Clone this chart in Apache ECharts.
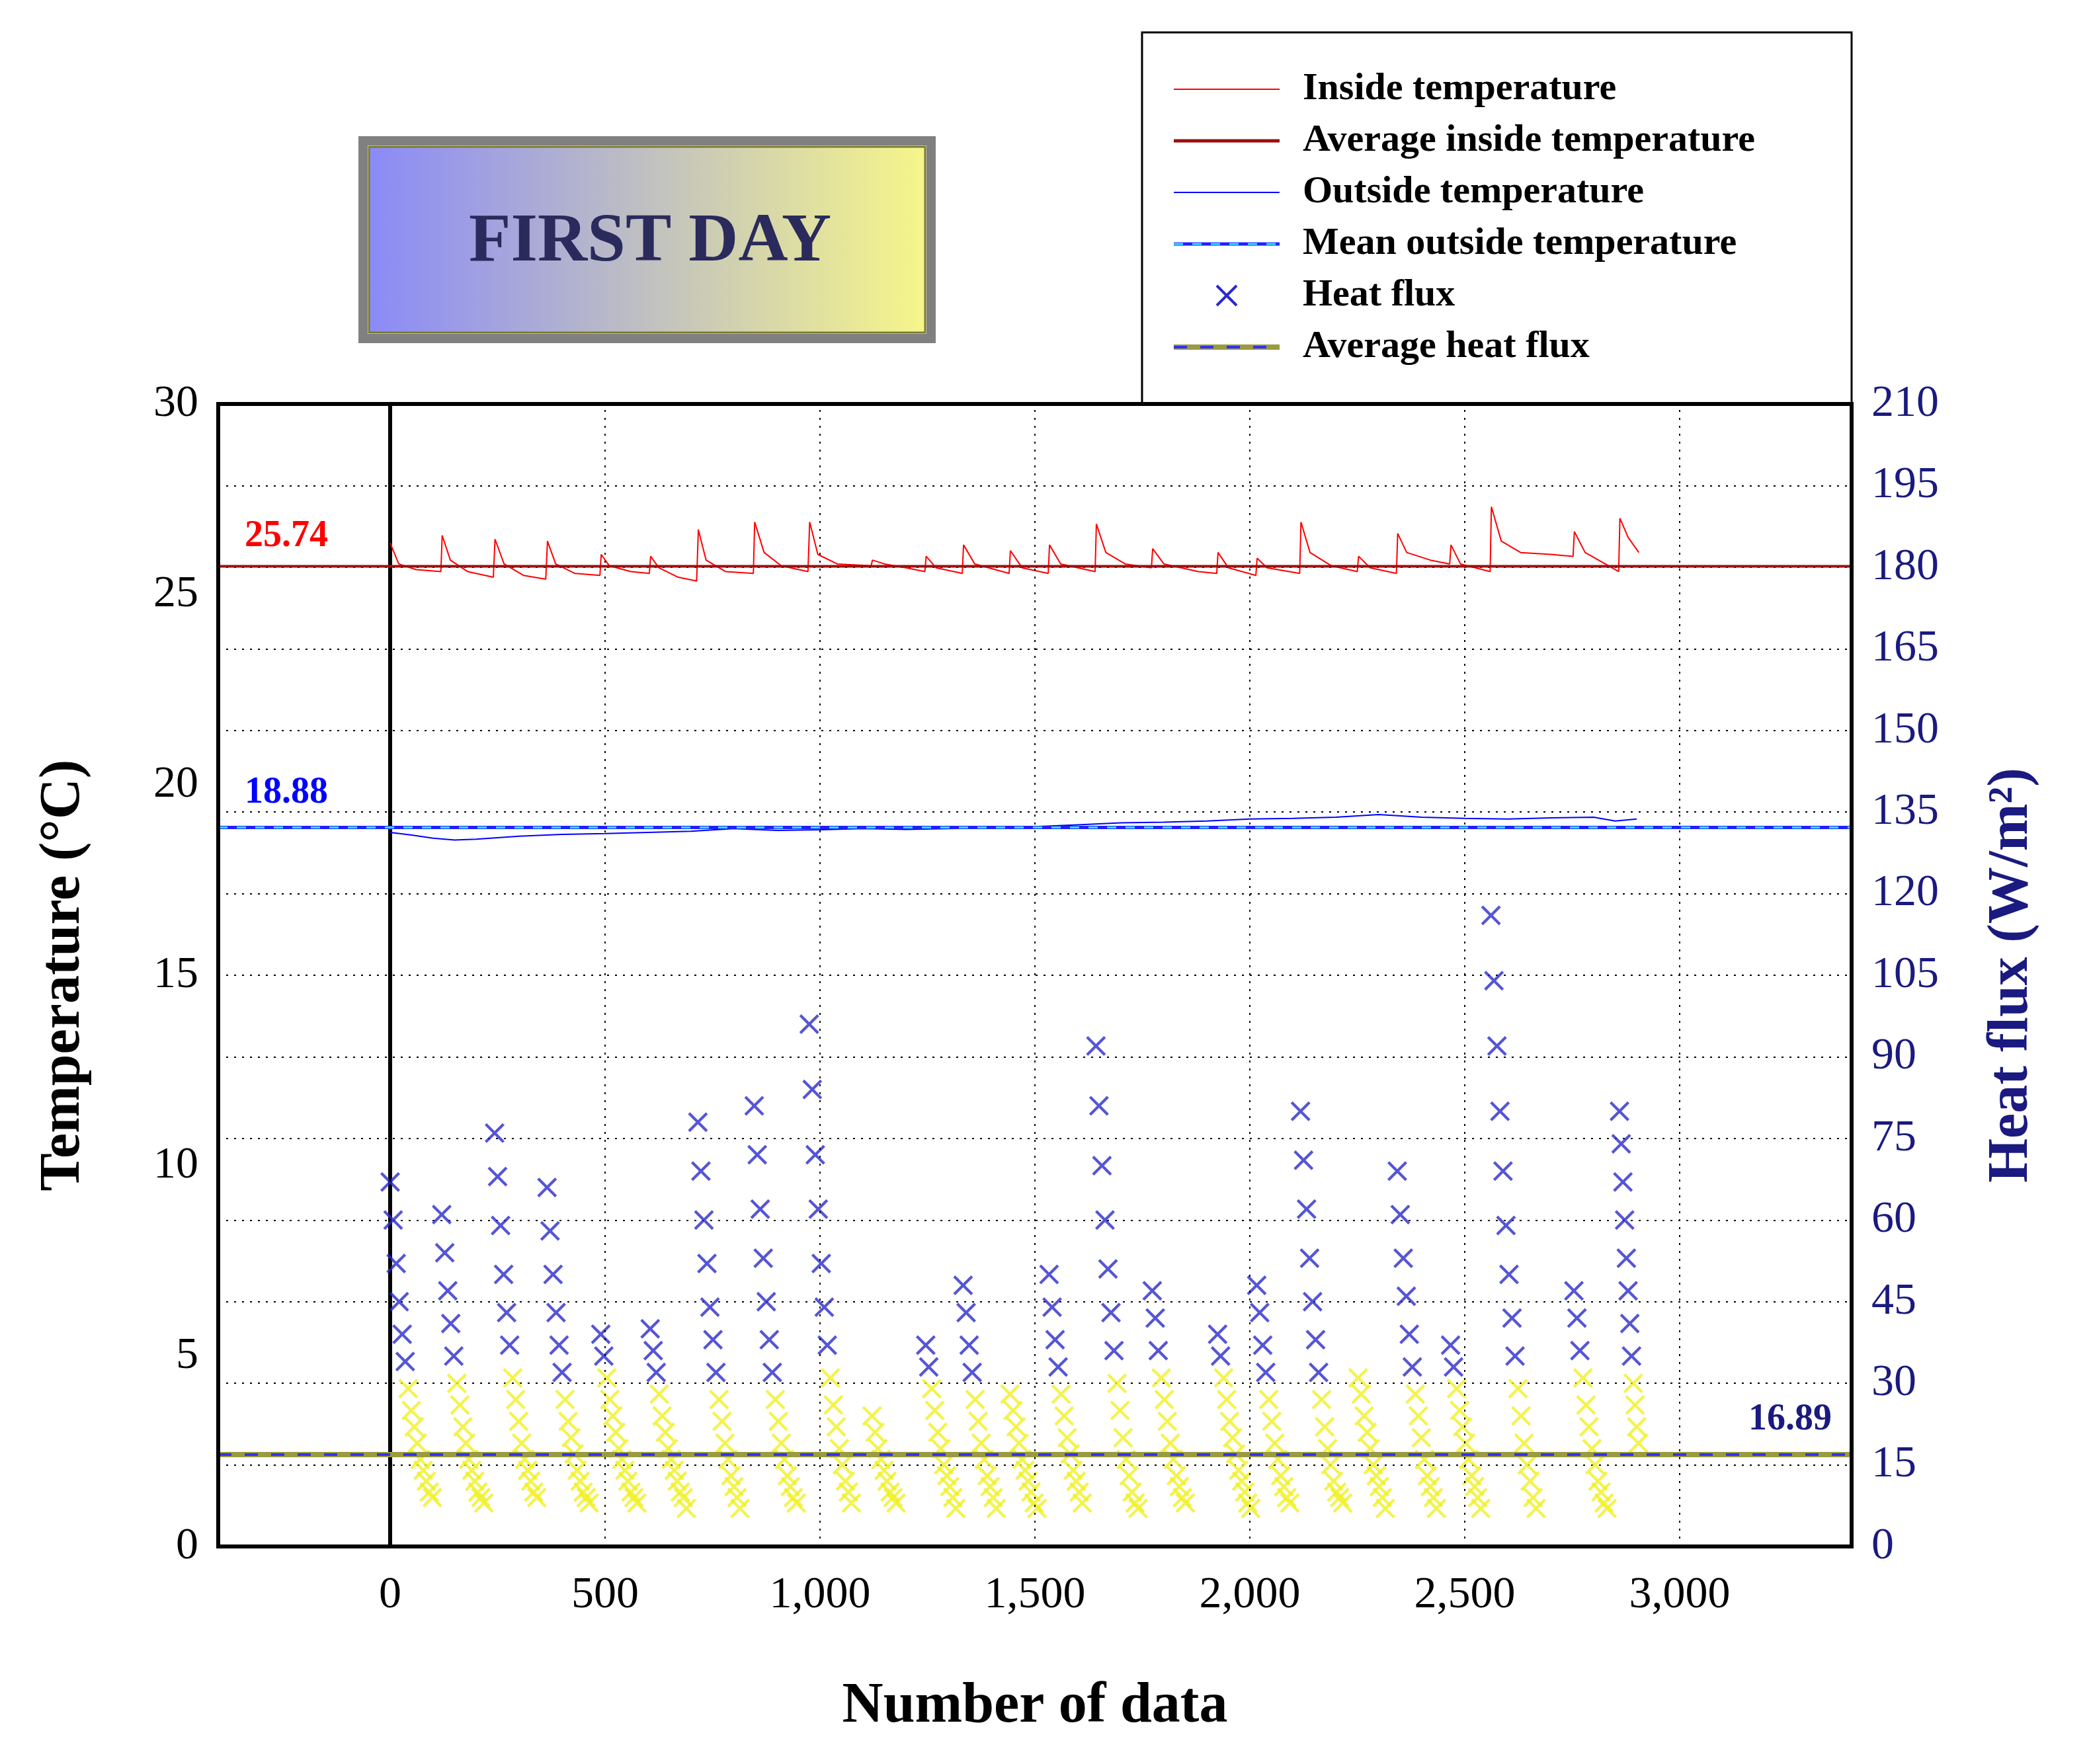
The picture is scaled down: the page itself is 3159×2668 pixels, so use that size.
<!DOCTYPE html>
<html><head><meta charset="utf-8">
<script src="https://cdn.jsdelivr.net/npm/echarts@6/dist/echarts.min.js"></script>
<style>html,body{margin:0;padding:0;background:#fff}#c{width:3159px;height:2668px}</style>
</head><body><div id="c"></div>
<script>
const xTicks=[0,500,1000,1500,2000,2500,3000];
const avgInside=25.74, meanOutside=18.88, avgHeat=16.89;
const insideTemp=[[0,26.35],[20,25.8],[60,25.65],[118,25.6],[121,26.55],[140,25.9],[180,25.6],[240,25.45],
[244,26.45],[265,25.8],[310,25.5],[362,25.4],[366,26.4],[385,25.8],[430,25.55],[488,25.5],
[491,26.05],[510,25.75],[560,25.6],[603,25.55],[606,26.0],[625,25.7],[670,25.45],[713,25.35],
[717,26.7],[735,25.9],[780,25.6],[845,25.55],[848,26.9],[870,26.1],[910,25.75],[972,25.6],
[976,26.9],[995,26.05],[1040,25.8],[1119,25.75],[1122,25.9],[1150,25.8],[1200,25.7],[1244,25.6],
[1247,26.0],[1270,25.7],[1331,25.55],[1334,26.3],[1360,25.8],[1440,25.55],[1443,26.15],[1470,25.7],[1531,25.55],
[1534,26.3],[1560,25.8],[1640,25.6],[1643,26.85],[1665,26.1],[1710,25.8],[1771,25.7],
[1774,26.2],[1800,25.8],[1880,25.6],[1923,25.55],[1926,26.1],[1950,25.7],[2014,25.5],
[2017,25.95],[2040,25.7],[2116,25.55],[2119,26.9],[2140,26.1],[2190,25.75],[2250,25.6],
[2253,26.0],[2280,25.7],[2341,25.55],[2344,26.6],[2365,26.1],[2420,25.9],[2465,25.8],
[2468,26.3],[2490,25.8],[2559,25.6],[2562,27.3],[2585,26.4],[2630,26.1],[2700,26.05],[2752,26.0],
[2755,26.65],[2780,26.1],[2858,25.6],[2861,27.0],[2880,26.5],[2905,26.1]];
const outsideTemp=[[0,18.75],[50,18.68],[100,18.6],[150,18.55],[200,18.57],[300,18.65],[400,18.7],[500,18.72],[600,18.75],[700,18.78],[800,18.85],[900,18.8],[1000,18.82],[1100,18.85],[1200,18.83],[1300,18.85],[1400,18.87],[1500,18.9],[1600,18.95],[1700,19.0],[1800,19.02],[1900,19.05],[2000,19.1],[2100,19.12],[2200,19.15],[2300,19.22],[2400,19.15],[2500,19.12],[2600,19.1],[2700,19.13],[2800,19.15],[2850,19.05],[2900,19.1]];
// heat flux pulses: [start, step, values]
const heatPulses=[
[0,7,[67,60,52,45,39,34,29,25,22,19,16,14,12,10,9]],
[120,7,[61,54,47,41,35,30,26,22,19,16,14,12,10,9,8]],
[243,7,[76,68,59,50,43,37,31,27,23,19,16,14,12,10,9]],
[365,7,[66,58,50,43,37,32,27,23,20,17,14,12,10,9,8]],
[490,7,[39,35,31,27,24,21,18,16,14,12,10,9,8]],
[605,7,[40,36,32,28,24,21,18,16,14,12,10,9,7]],
[716,7,[78,69,60,52,44,38,32,27,23,19,16,13,11,9,7]],
[847,7,[81,72,62,53,45,38,32,27,23,19,16,13,11,9,8]],
[975,7,[96,84,72,62,52,44,37,31,26,22,18,15,12,10,8]],
[1121,7,[24,21,18,16,14,12,10,9,8]],
[1246,7,[37,33,29,25,21,18,15,13,11,9,7]],
[1333,7,[48,43,37,32,27,23,19,16,13,11,9,7]],
[1442,7,[28,25,22,19,16,14,12,10,8,7]],
[1533,7,[50,44,38,33,28,24,20,17,14,12,10,8]],
[1642,7,[92,81,70,60,51,43,36,30,25,20,16,13,10,8,7]],
[1773,7,[47,42,36,31,27,23,19,16,13,11,9,8]],
[1925,7,[39,35,31,27,23,20,17,14,12,10,8,7]],
[2016,7,[48,43,37,32,27,23,19,16,13,11,9,8]],
[2118,7,[80,71,62,53,45,38,32,27,22,18,15,12,10,9,8]],
[2252,7,[31,28,24,21,18,15,13,11,9,7]],
[2343,7,[69,61,53,46,39,33,28,24,20,16,13,11,9,7]],
[2467,7,[37,33,29,25,22,19,16,13,11,9,7]],
[2561,7,[116,104,92,80,69,59,50,42,35,29,24,19,15,12,9,7]],
[2754,7,[47,42,36,31,26,22,18,15,12,10,8,7]],
[2860,4,[80,74,67,60,53,47,41,35,30,26,22,19]]];
const heatData=[];
heatPulses.forEach(p=>p[2].forEach((v,i)=>heatData.push([p[0]+i*p[1],v])));

const F='Liberation Serif';
const X='path://M0,1L1,0L5,4L9,0L10,1L6,5L10,9L9,10L5,6L1,10L0,9L4,5Z';
const chart=echarts.init(document.getElementById('c'));
const L=[-400,3400];
const lx=1775, ly0=135, ld=78;
const legendItems=['Inside temperature','Average inside temperature','Outside temperature','Mean outside temperature','Heat flux','Average heat flux'];
const cx=1855, cy=ly0+4*ld;
const g=[
 {type:'rect',shape:{x:1727,y:49,width:1073,height:562},style:{fill:'#fff',stroke:'#000',lineWidth:3},z:1},
 {type:'rect',shape:{x:549,y:213,width:859,height:299},style:{fill:'none',stroke:'#808080',lineWidth:14},z:1},
 {type:'rect',shape:{x:558,y:222,width:841,height:281},style:{fill:new echarts.graphic.LinearGradient(0,0,1,0,[{offset:0,color:'#8a8af8'},{offset:1,color:'#f6f68a'}]),stroke:'#7a7a30',lineWidth:3},z:1},
 {type:'text',x:983,y:367,style:{text:'FIRST DAY',font:'bold 104px "Liberation Serif"',fill:'#2a2a5c',align:'center',verticalAlign:'middle'},z:2},
 {type:'line',shape:{x1:lx,y1:ly0,x2:lx+160,y2:ly0},style:{stroke:'#ff0000',lineWidth:2},z:2},
 {type:'line',shape:{x1:lx,y1:ly0+ld,x2:lx+160,y2:ly0+ld},style:{stroke:'#9a1010',lineWidth:5},z:2},
 {type:'line',shape:{x1:lx,y1:ly0+2*ld,x2:lx+160,y2:ly0+2*ld},style:{stroke:'#0000ff',lineWidth:2},z:2},
 {type:'line',shape:{x1:lx,y1:ly0+3*ld,x2:lx+160,y2:ly0+3*ld},style:{stroke:'#2020ff',lineWidth:5},z:2},
 {type:'line',shape:{x1:lx,y1:ly0+3*ld,x2:lx+160,y2:ly0+3*ld},style:{stroke:'#30e0ff',lineWidth:3,lineDash:[14,14]},z:3},
 {type:'line',shape:{x1:cx-15,y1:cy-15,x2:cx+15,y2:cy+15},style:{stroke:'#2a2acc',lineWidth:4},z:2},
 {type:'line',shape:{x1:cx-15,y1:cy+15,x2:cx+15,y2:cy-15},style:{stroke:'#2a2acc',lineWidth:4},z:2},
 {type:'line',shape:{x1:lx,y1:ly0+5*ld,x2:lx+160,y2:ly0+5*ld},style:{stroke:'#9a9a40',lineWidth:8},z:2},
 {type:'line',shape:{x1:lx,y1:ly0+5*ld,x2:lx+160,y2:ly0+5*ld},style:{stroke:'#3030ff',lineWidth:4,lineDash:[20,20]},z:3},
 {type:'text',x:370,y:812,style:{text:String(avgInside),font:'bold 56px "Liberation Serif"',fill:'#ff0000',verticalAlign:'middle'},z:5},
 {type:'text',x:370,y:1200,style:{text:String(meanOutside),font:'bold 56px "Liberation Serif"',fill:'#0000ff',verticalAlign:'middle'},z:5},
 {type:'text',x:2770,y:2148,style:{text:String(avgHeat),font:'bold 56px "Liberation Serif"',fill:'#1a1a80',align:'right',verticalAlign:'middle'},z:5},
 {type:'rect',shape:{x:330,y:611,width:2470,height:1728},style:{fill:'none',stroke:'#000',lineWidth:6},z:10,silent:true}
];
legendItems.forEach((t,i)=>g.push({type:'text',x:1970,y:ly0+i*ld,style:{text:t,font:'bold 58px "Liberation Serif"',fill:'#000',verticalAlign:'middle'},z:2}));

chart.setOption({
 animation:false,
 textStyle:{fontFamily:F},
 grid:{left:330,right:359,top:611,bottom:329},
 xAxis:{type:'value',min:-400,max:3400,
  name:'Number of data',nameLocation:'middle',nameGap:200,nameTextStyle:{fontFamily:F,fontWeight:'bold',fontSize:86,color:'#000'},
  axisLine:{onZero:false,lineStyle:{color:'#000',width:6}},axisTick:{show:false},splitLine:{show:false},
  axisLabel:{customValues:xTicks,fontFamily:F,fontSize:68,color:'#000',margin:40}},
 yAxis:[
  {type:'value',min:0,max:30,interval:5,name:'Temperature (°C)',nameLocation:'middle',nameGap:190,nameRotate:90,
   nameTextStyle:{fontFamily:F,fontWeight:'bold',fontSize:86,color:'#000'},
   axisLine:{show:true,lineStyle:{color:'#000',width:6}},axisTick:{show:false},splitLine:{show:false},
   axisLabel:{fontFamily:F,fontSize:68,color:'#000',margin:30}},
  {type:'value',min:0,max:210,interval:15,name:'Heat flux (W/m²)',nameLocation:'middle',nameGap:200,nameRotate:90,
   nameTextStyle:{fontFamily:F,fontWeight:'bold',fontSize:86,color:'#1a1a80'},
   axisLine:{show:true,lineStyle:{color:'#000',width:6}},axisTick:{show:false},
   splitLine:{show:true,lineStyle:{color:'#000',width:2,type:[3,9]}},
   axisLabel:{fontFamily:F,fontSize:68,color:'#1a1a80',margin:30}}],
 visualMap:{show:false,type:'piecewise',seriesIndex:0,dimension:1,
  pieces:[{lt:32,color:'#f0f020'},{gte:32,color:'#2a2acc'}]},
 graphic:g,
 series:[
  {type:'scatter',yAxisIndex:1,data:heatData,symbol:X,symbolSize:30,z:3},
  {type:'line',data:insideTemp,showSymbol:false,lineStyle:{color:'#ff0000',width:2},z:4,
   markLine:{silent:true,symbol:'none',label:{show:false},
    lineStyle:{color:'#000',width:2,type:[3,9]},data:xTicks.map(v=>({xAxis:v}))}},
  {type:'line',data:outsideTemp,showSymbol:false,lineStyle:{color:'#0000ff',width:2},z:4},
  {type:'line',data:L.map(x=>[x,avgInside]),showSymbol:false,lineStyle:{color:'#9a1010',width:4},z:4},
  {type:'line',data:L.map(x=>[x,meanOutside]),showSymbol:false,lineStyle:{color:'#2020ff',width:5},z:4},
  {type:'line',data:L.map(x=>[x,meanOutside]),showSymbol:false,lineStyle:{color:'#30e0ff',width:3,type:[14,14]},z:5},
  {type:'line',yAxisIndex:1,data:L.map(x=>[x,avgHeat]),showSymbol:false,lineStyle:{color:'#9a9a40',width:8},z:4},
  {type:'line',yAxisIndex:1,data:L.map(x=>[x,avgHeat]),showSymbol:false,lineStyle:{color:'#3030ff',width:4,type:[20,20]},z:5}
 ]
});
</script></body></html>
